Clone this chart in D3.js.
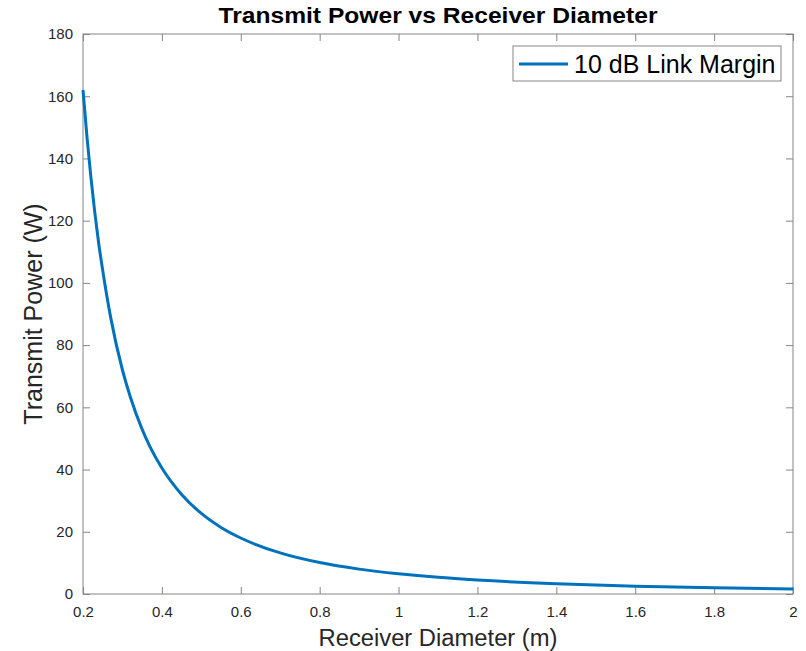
<!DOCTYPE html>
<html><head><meta charset="utf-8">
<script src="https://cdn.jsdelivr.net/npm/d3@7"></script>
<style>body{margin:0;background:#fff}svg{display:block}text{font-family:"Liberation Sans",Arial,sans-serif}</style>
</head><body>
<svg id="c" width="806" height="651"></svg>
<script>
const diameters = [0.2,0.21,0.22,0.23,0.24,0.25,0.27,0.3,0.32,0.35,0.37,0.4,0.45,0.5,0.55,0.6,0.7,0.8,0.9,1.0,1.1,1.2,1.4,1.6,1.8,2.0];
const power =     [162,147,134,122.5,112.5,104,89,72,63.3,52.9,47.3,40.5,32,25.9,21.4,18,13.2,10.1,8,6.5,5.35,4.5,3.3,2.53,2.0,1.62];
const xTicks = [0.2,0.4,0.6,0.8,1,1.2,1.4,1.6,1.8,2];
const yTicks = [0,20,40,60,80,100,120,140,160,180];
const seriesName = "10 dB Link Margin";

const svg = d3.select("#c");
const L=83, R=793, T=34, B=594;
const x = d3.scaleLinear().domain([0.2,2]).range([L,R]);
const y = d3.scaleLinear().domain([0,180]).range([B,T]);
const axCol="#858585", txtCol="#262626";

svg.append("rect").attr("x",L).attr("y",T).attr("width",R-L).attr("height",B-T).attr("fill","none").attr("stroke",axCol).attr("stroke-width",1);

function styleAxis(g){
  g.select(".domain").remove();
  g.selectAll(".tick line").attr("stroke",axCol);
  g.selectAll(".tick text").attr("fill",txtCol).attr("font-size",15);
}
const tl=7;
svg.append("g").attr("transform",`translate(0,${B})`).call(d3.axisBottom(x).tickValues(xTicks).tickFormat(d3.format("~g")).tickSizeInner(-tl).tickPadding(12)).call(styleAxis);
svg.append("g").attr("transform",`translate(0,${T})`).call(d3.axisTop(x).tickValues(xTicks).tickFormat("").tickSizeInner(-tl)).call(styleAxis);
svg.append("g").attr("transform",`translate(${L},0)`).call(d3.axisLeft(y).tickValues(yTicks).tickSizeInner(-tl).tickPadding(10)).call(styleAxis);
svg.append("g").attr("transform",`translate(${R},0)`).call(d3.axisRight(y).tickValues(yTicks).tickFormat("").tickSizeInner(-tl)).call(styleAxis);

const data = diameters.map((d,i)=>({d, p:power[i]}));
svg.append("path").datum(data)
  .attr("fill","none").attr("stroke","#0072BD").attr("stroke-width",3)
  .attr("d", d3.line().x(d=>x(d.d)).y(d=>y(d.p)).curve(d3.curveMonotoneX));

svg.append("text").attr("x",(L+R)/2).attr("y",23).attr("text-anchor","middle").attr("font-size",22).attr("font-weight","bold").attr("fill","#000")
  .attr("textLength",439).attr("lengthAdjust","spacingAndGlyphs").text("Transmit Power vs Receiver Diameter");
svg.append("text").attr("x",(L+R)/2).attr("y",646).attr("text-anchor","middle").attr("font-size",23).attr("fill",txtCol)
  .attr("textLength",239).attr("lengthAdjust","spacingAndGlyphs").text("Receiver Diameter (m)");
svg.append("text").attr("transform",`translate(42,${(T+B)/2}) rotate(-90)`).attr("text-anchor","middle").attr("font-size",25).attr("fill",txtCol).text("Transmit Power (W)");

const lg = svg.append("g");
lg.append("rect").attr("x",513).attr("y",46).attr("width",268).attr("height",35).attr("fill","#fff").attr("stroke",axCol).attr("stroke-width",1);
lg.append("line").attr("x1",519).attr("x2",568).attr("y1",64).attr("y2",64).attr("stroke","#0072BD").attr("stroke-width",3);
lg.append("text").attr("x",574).attr("y",73).attr("font-size",25).attr("fill","#000").text(seriesName);
</script>
</body></html>
